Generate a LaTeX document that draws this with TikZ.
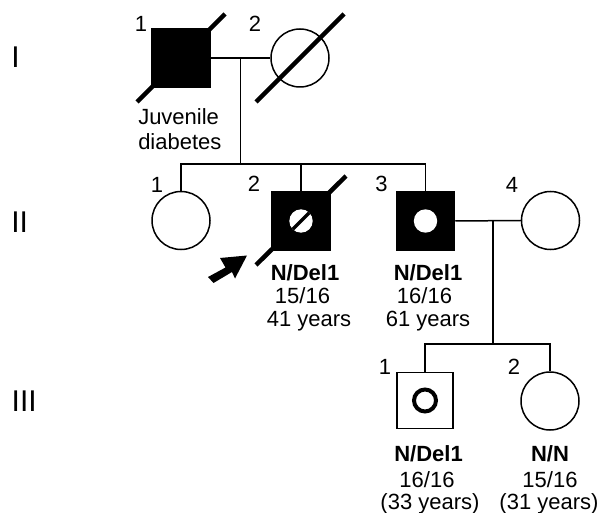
\documentclass[tikz,border=0pt]{standalone}
\usepackage{fontspec}
\setmainfont{Liberation Sans}
\usetikzlibrary{calc}
\begin{document}
\begin{tikzpicture}[x=1pt,y=-1pt,
  line width=1.5pt,
  male/.style={draw,rectangle,minimum size=58pt,inner sep=0pt,line width=1.5pt},
  female/.style={draw,circle,minimum size=58pt,inner sep=0pt,line width=1.5pt},
  affected/.style={fill=black},
  deceased/.style={line width=4.5pt},
  txt/.style={font=\fontsize{22}{26}\selectfont,inner sep=0pt,anchor=base},
  btxt/.style={font=\fontsize{22}{26}\selectfont\bfseries,inner sep=0pt,anchor=base},
  gen/.style={font=\fontsize{30}{34}\selectfont,inner sep=0pt,anchor=base west},
  line/.style={line width=1.5pt}]
\useasboundingbox (0,0) rectangle (605,513);

% generation labels
\node[gen] (gI) at (10.5,68) {I};
\node[gen] (gII) at (10.5,233) {II};
\node[gen] (gIII) at (11,411.5) {III};

% Generation I
\node[male,affected] (I1) at (181,58) {};
\node[female] (I2) at (300,58) {};
\draw[deceased] ($(I1.center)+(-44,44)$) -- ($(I1.center)+(44,-44)$);
\draw[deceased] ($(I2.center)+(-44,44)$) -- ($(I2.center)+(44,-44)$);
\node[txt] (nI1) at (141,32) {1};
\node[txt] (nI2) at (255,32) {2};
\node[txt,anchor=base west] (jd1) at (137.5,124.5) {Juvenile};
\node[txt,anchor=base west] (jd2) at (137.5,149.5) {diabetes};

% Generation II
\node[female] (II1) at (181,220.5) {};
\node[male,affected] (II2) at (301,221) {};
\node[male,affected] (II3) at (425.5,221) {};
\node[female] (II4) at (550.5,220.5) {};
\draw[deceased] ($(II2.center)+(-45,44)$) -- ($(II2.center)+(45,-45)$);
% inner marks
\fill[white] (II2.center) circle (11.7);
\begin{scope}
  \clip (II2.center) circle (11.7);
  \draw[line width=3.5pt] ($(II2.center)+(-15,15)$) -- ($(II2.center)+(15,-15)$);
\end{scope}
\fill[white] (II3.center) circle (11.7);
\node[txt] (nII1) at (157,193) {1};
\node[txt] (nII2) at (254,192) {2};
\node[txt] (nII3) at (381.5,192) {3};
\node[txt] (nII4) at (512,193) {4};

\node[btxt] (g2a) at (305,280.5) {N/Del1};
\node[txt] (g2b) at (302.5,303.5) {15/16};
\node[txt] (g2c) at (309,326.5) {41 years};
\node[btxt] (g3a) at (428,280.5) {N/Del1};
\node[txt] (g3b) at (424.5,303.5) {16/16};
\node[txt] (g3c) at (428,326.5) {61 years};

% proband arrow
\fill (247,255.5) -- (235,278.5) -- (232,272) -- (213.5,283)
  -- (208,277) -- (225.5,267.5) -- (220,258) -- cycle;

% Generation III
\node[male,minimum size=56pt,line width=1.3pt] (III1) at (425,400.5) {};
\node[female] (III2) at (550,401) {};
\draw[line width=4pt] (III1.center) circle (11);
\node[txt] (nIII1) at (385,374) {1};
\node[txt] (nIII2) at (514,374) {2};
\node[btxt] (h1a) at (428.5,461.5) {N/Del1};
\node[txt] (h1b) at (427,487) {16/16};
\node[txt] (h1c) at (430,509) {(33 years)};
\node[btxt] (h2a) at (550,461.5) {N/N};
\node[txt] (h2b) at (550,487) {15/16};
\node[txt] (h2c) at (549,509) {(31 years)};

% connectors
\draw[line] (I1.east) -- (I2.west);
\coordinate (m1) at ($(I1.east)!0.5!(I2.west)$);
\coordinate (s1) at (241,164);
\draw[line] (m1) -- (m1 |- s1);
\draw[line] (II1.north) |- (m1 |- s1) -| (II3.north);
\draw[line] (II2.north) -- (II2.north |- s1);

\draw[line] (II3.east) -- (II4.west);
\coordinate (m2) at (493,221);
\coordinate (s2) at (493,344);
\draw[line] (m2) -- (s2);
\draw[line] (III1.north) |- (s2) -| (III2.north);
\end{tikzpicture}
\end{document}
